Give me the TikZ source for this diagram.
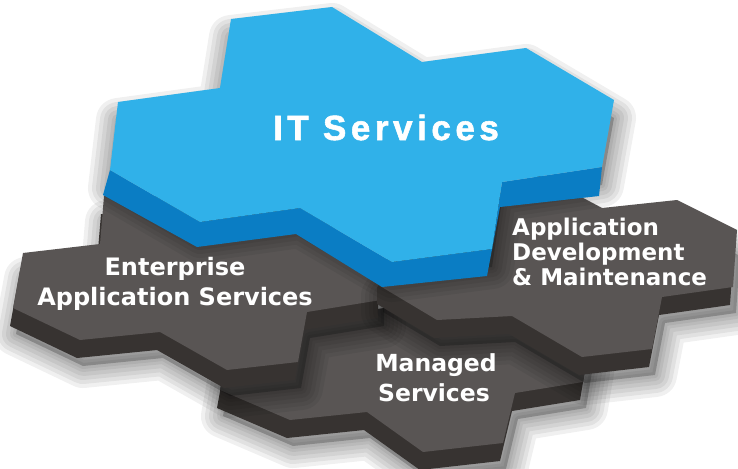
\documentclass[tikz,border=0pt]{standalone}
\usepackage{fontspec}
\newfontfamily\tilefont{DejaVu Sans}
\newfontfamily\itfont{Liberation Sans}[LetterSpace=13,FakeBold=1.6]
\definecolor{bluetop}{HTML}{30B1E9}
\definecolor{blueside}{HTML}{0A7DC4}
\definecolor{graytop}{HTML}{595554}
\definecolor{grayside}{HTML}{373331}
\newcommand\tileMpath{(230,335) -- (220,390) -- (290,420) -- (367,412) -- (423,452) -- (503,443) -- (515,393) -- (583,382) -- (590,340) -- (440,300) -- (300,320) -- cycle}
\newcommand\tileEpath{(23,253) -- (100,244) -- (104,196) -- (300,196) -- (381,272) -- (381,300) -- (307,312) -- (298,362) -- (227,370) -- (160,332) -- (80,340) -- (13,308) -- cycle}
\newcommand\tileApath{(380,270) -- (400,240) -- (540,175) -- (602,208) -- (677,200) -- (737,230) -- (733,287) -- (662,297) -- (652,349) -- (582,357) -- (512,316) -- (437,320) -- (380,286) -- cycle}
\newcommand\bluetoppath{(231,19) -- (332,7) -- (422,62) -- (526,48) -- (614,100) -- (602,167) -- (502,182) -- (492,249) -- (392,262) -- (300,208) -- (200,222) -- (110,170) -- (118,102) -- (220,88) -- cycle}
\newcommand\bluesidepath{(110,170) -- (200,222) -- (300,208) -- (392,262) -- (492,249) -- (502,182) -- (602,167) -- (599,196) -- (500,207) -- (487,276) -- (382,287) -- (296,234) -- (197,247) -- (103,195) -- cycle}
\newcommand\castshadow[2]{%
  \begin{scope}[shift={#1}]
    \fill[black, opacity=0.22] #2;
    \foreach \w in {44,36,28,20,12,6} {\draw[black, opacity=0.06, line width=\w pt, line join=round] #2;}
  \end{scope}}
\tikzset{
  tiletop/.style={fill=graytop},
  tileside/.style={fill=grayside, shift={(-3,18)}},
  bluetopface/.style={fill=bluetop},
  bluesideface/.style={fill=blueside},
  tilelabel/.style={anchor=base, text=white, inner sep=0pt, font=\tilefont\bfseries\fontsize{24}{28}\selectfont},
  ittext/.style={anchor=base, text=white, inner sep=0pt, font=\itfont\bfseries\fontsize{35}{40}\selectfont}
}
\begin{document}
\begin{tikzpicture}[x=1pt,y=-1pt]
\useasboundingbox (0,0) rectangle (738,468);
\fill[white] (0,0) rectangle (738,468);
% Managed services tile
\castshadow{(3,26)}{\tileMpath}
\fill[tileside] \tileMpath;
\fill[tiletop] \tileMpath;
% Enterprise tile
\castshadow{(3,26)}{\tileEpath}
\fill[tileside] \tileEpath;
\fill[tiletop] \tileEpath;
% Application development tile
\castshadow{(3,26)}{\tileApath}
\fill[tileside] \tileApath;
\fill[tiletop] \tileApath;
% IT services (blue)
\castshadow{(0,18)}{\bluetoppath}
\fill[bluesideface] \bluesidepath;
\fill[bluetopface] \bluetoppath;
% labels
\node[ittext] (it) at (386,140) {IT Services};
\node[tilelabel] (ent1) at (175,275) {Enterprise};
\node[tilelabel] (ent2) at (175,305) {Application Services};
\node[tilelabel, anchor=base west, font=\tilefont\bfseries\fontsize{23}{28}\selectfont] (adm1) at (512,235) {Application};
\node[tilelabel, anchor=base west, font=\tilefont\bfseries\fontsize{23}{28}\selectfont] (adm2) at (512,260) {Development};
\node[tilelabel, anchor=base west, font=\tilefont\bfseries\fontsize{23}{28}\selectfont] (adm3) at (512,285) {\& Maintenance};
\node[tilelabel, font=\tilefont\bfseries\fontsize{23.5}{28}\selectfont] (man1) at (436,371) {Managed};
\node[tilelabel, font=\tilefont\bfseries\fontsize{23.5}{28}\selectfont] (man2) at (434,401) {Services};
\end{tikzpicture}
\end{document}
